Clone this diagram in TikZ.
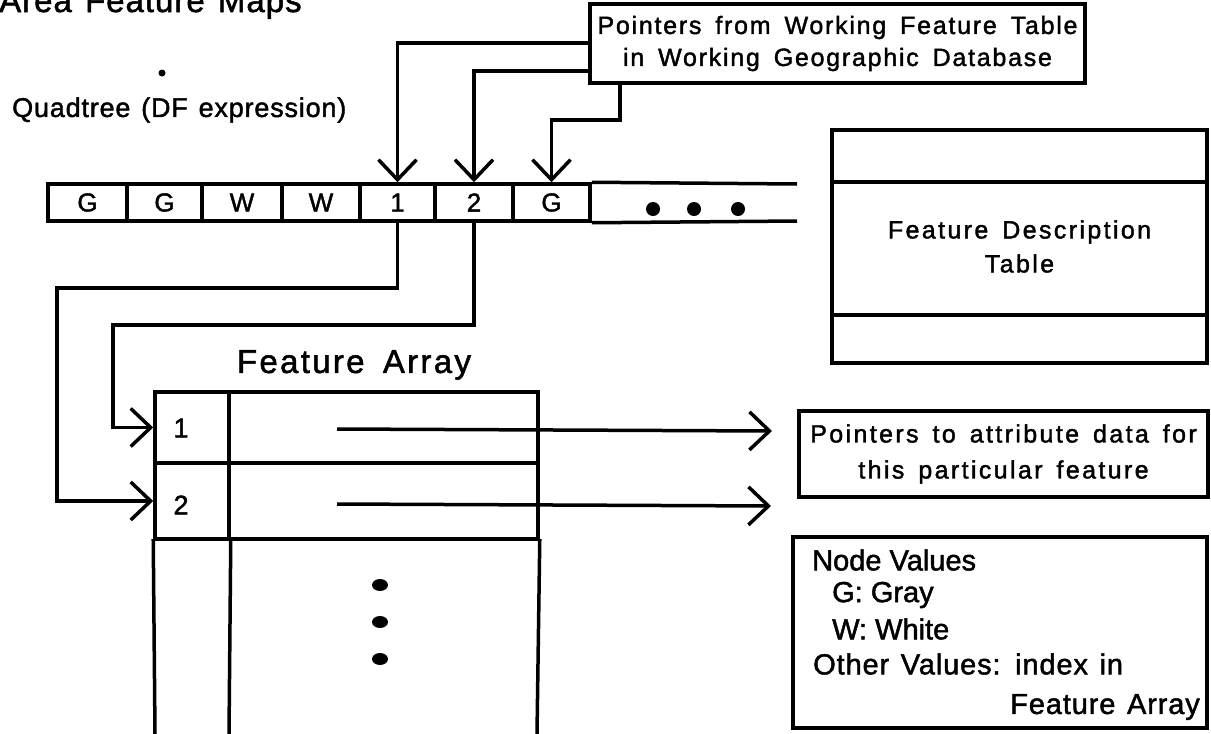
\documentclass[tikz,border=0pt]{standalone}
\usepackage{fontspec}
\setmainfont{Liberation Sans}[FakeBold=1.6]
\newfontfamily\spA[LetterSpace=7,WordSpace=1.5,FakeBold=1.6]{Liberation Sans}
\newfontfamily\spB[LetterSpace=9.5,WordSpace=1.5,FakeBold=1.6]{Liberation Sans}
\newfontfamily\spC[LetterSpace=3,WordSpace=1.3,FakeBold=1.6]{Liberation Sans}
\newfontfamily\spD[LetterSpace=7,WordSpace=1.6,FakeBold=1.6]{Liberation Sans}
\usetikzlibrary{arrows.meta}
\begin{document}
\begin{tikzpicture}[x=1pt,y=-1pt,
  ln/.style={line width=3.5pt},
  bx/.style={draw,line width=3.6pt,inner sep=0pt},
  cell/.style={draw,line width=3.5pt,minimum height=37pt,inner sep=0pt,font=\fontsize{26}{28}\selectfont},
  barb/.style={-{Straight Barb[length=20pt,width=38pt,line width=3.5pt]}},
  txt/.style={inner sep=0pt}
]
\fill[white] (0,0) rectangle (1211,734);
\useasboundingbox (0,0) rectangle (1211,734);

% title and labels
\node[txt,anchor=base west,font=\spC\fontsize{33}{36}\selectfont] (title) at (-1,12) {Area Feature Maps};
\fill (162,73) circle (3.5pt);
\node[txt,anchor=west,font=\spC\fontsize{27}{30}\selectfont] (quad) at (12,110) {Quadtree (DF expression)};

% quadtree strip
\node[cell,minimum width=79pt] (c1) at (87.5,202.5) {G};
\node[cell,minimum width=75pt] (c2) at (164.5,202.5) {G};
\node[cell,minimum width=80pt] (c3) at (242,202.5) {W};
\node[cell,minimum width=78pt] (c4) at (321,202.5) {W};
\node[cell,minimum width=75pt] (c5) at (397.5,202.5) {1};
\node[cell,minimum width=78pt] (c6) at (474,202.5) {2};
\node[cell,minimum width=77pt] (c7) at (551.5,202.5) {G};
\draw[ln] (c7.north east) -- (797,184);
\draw[ln] (c7.south east) -- (797,221);
\fill (653,209) circle (7pt) (694,209) circle (7pt) (738,209) circle (7pt);

% top pointer box
\node[bx,minimum width=495pt,minimum height=79pt,align=center,
  font=\spA\fontsize{25}{32}\selectfont] (top) at (837.5,43.5)
  {Pointers from Working Feature Table\\in Working Geographic Database};
\draw[ln,barb] (top.west |- 0,43) -| (c5.north);
\draw[ln,barb] (top.west |- 0,71) -| (c6.north);
\draw[ln,barb] (top.south -| 620,0) -- (620,120) -| (c7.north);

% feature description table
\node[bx,minimum width=375pt,minimum height=233pt,align=center,
  font=\spB\fontsize{25}{34}\selectfont] (fdt) at (1019.5,246.5)
  {Feature Description\\Table};
\draw[line width=3.6pt] (fdt.west |- 0,182) -- (fdt.east |- 0,182);
\draw[line width=3.6pt] (fdt.west |- 0,315) -- (fdt.east |- 0,315);

% feature array
\node[txt,font=\spD\fontsize{33}{36}\selectfont] (fatitle) at (354,365) {Feature Array};
\node[draw,ln,minimum width=74pt,minimum height=71pt] (a1) at (192,427.5) {};
\node[draw,ln,minimum width=74pt,minimum height=76pt] (a2) at (192,501) {};
\node[draw,ln,minimum width=309pt,minimum height=71pt] (b1) at (383.5,427.5) {};
\node[draw,ln,minimum width=309pt,minimum height=76pt] (b2) at (383.5,501) {};
\node[txt,font=\fontsize{27}{28}\selectfont] (l1) at (181,428) {1};
\node[txt,font=\fontsize{27}{28}\selectfont] (l2) at (181,505) {2};
\draw[ln,line cap=rect] (a2.south west) -- (155,734);
\draw[ln,line cap=rect] (a2.south east) -- (229,734);
\draw[ln,line cap=rect] (b2.south east) -- (537,734);
\fill (380,585) ellipse (8pt and 6pt) (380,622) ellipse (8pt and 6pt) (380,659) ellipse (8pt and 6pt);

% connectors from strip to array
\draw[ln,barb] (c5.south) -- (c5.south |- 0,288) -| (57,501) -- (a2.west);
\draw[ln,barb] (c6.south) -- (c6.south |- 0,325) -| (113,427.5) -- (a1.west);

% pointers to attribute data
\node[bx,minimum width=409pt,minimum height=86pt,align=center,
  font=\spB\fontsize{25}{36}\selectfont] (pbox) at (1003.5,454)
  {Pointers to attribute data for\\this particular feature};
\coordinate (h1s) at (337,429);
\coordinate (h1e) at (772,431);
\coordinate (h2s) at (337,504);
\coordinate (h2e) at (771,506);
\draw[ln,barb] (h1s) -- (h1e);
\draw[ln,barb] (h2s) -- (h2e);

% node values box
\node[bx,minimum width=414pt,minimum height=191pt] (nv) at (1000,632.5) {};
\node[txt,anchor=west,font=\fontsize{29}{32}\selectfont] (nv1) at (812,560) {Node Values};
\node[txt,anchor=west,font=\fontsize{29}{32}\selectfont] (nv2) at (832,595) {G: Gray};
\node[txt,anchor=west,font=\fontsize{29}{32}\selectfont] (nv3) at (832,629) {W: White};
\node[txt,anchor=west,font=\spC\fontsize{29}{32}\selectfont] (nv4) at (813,664) {Other Values: index in};
\node[txt,anchor=east,font=\spC\fontsize{29}{32}\selectfont] (nv5) at (1200,707) {Feature Array};
\end{tikzpicture}
\end{document}
